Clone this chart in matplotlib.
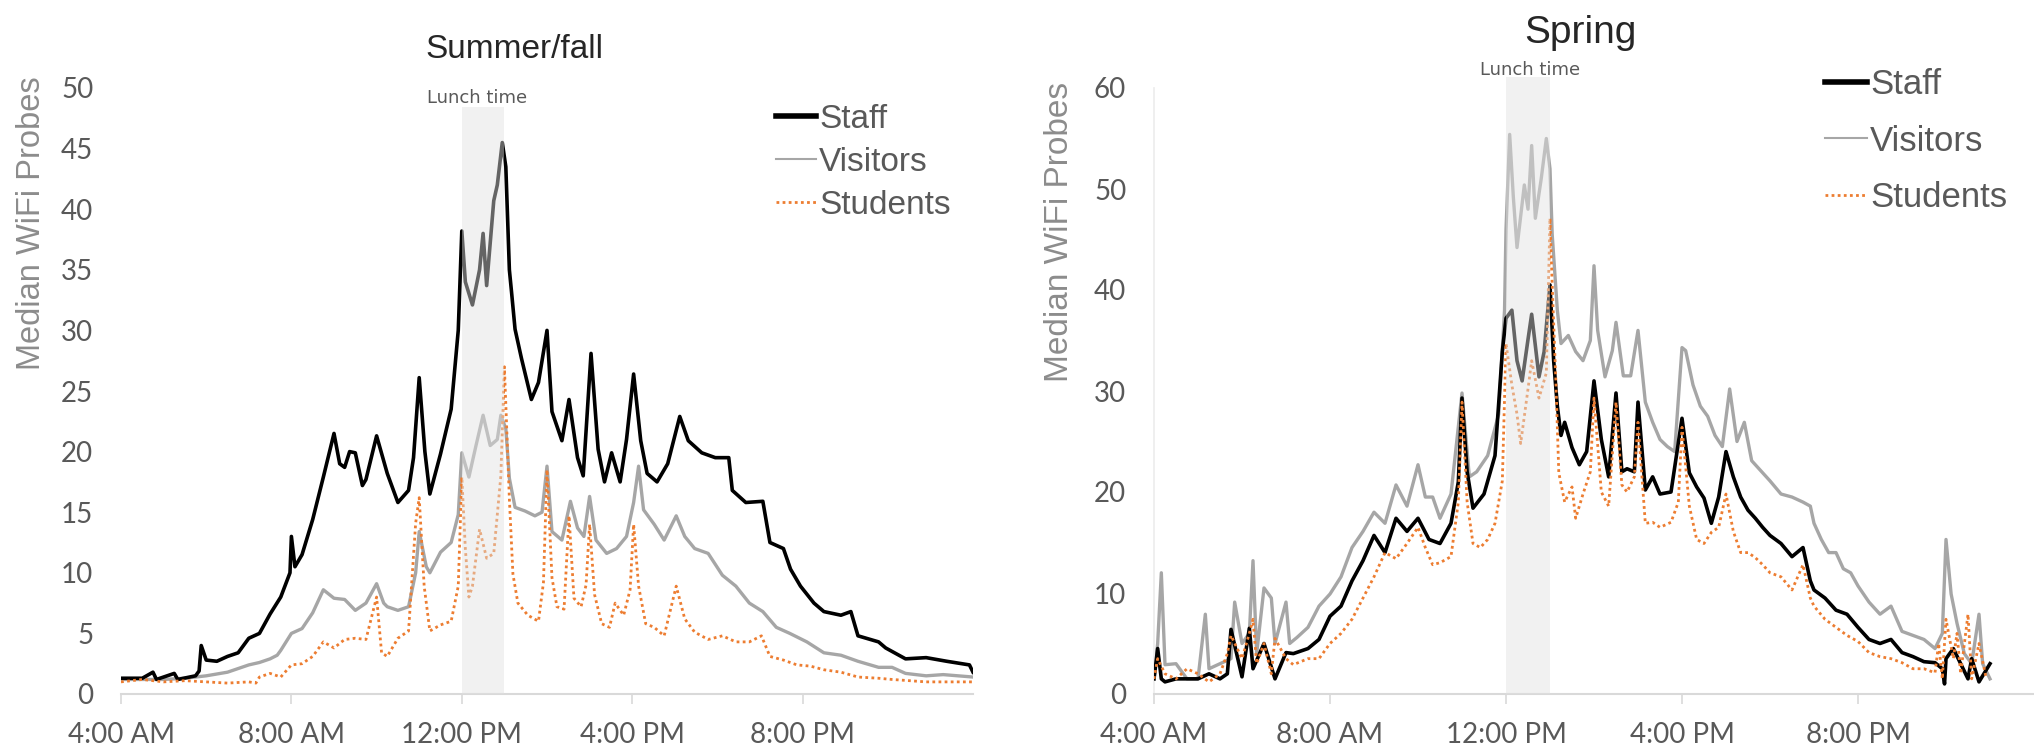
import matplotlib
matplotlib.use("Agg")
import matplotlib.pyplot as plt

# ---- data, times as HH:MM ----
sf_staff_t = ["04:00", "04:30", "04:45", "04:50", "05:15", "05:20", "05:45", "05:50", "05:53", "06:00",
              "06:15", "06:30", "06:45", "07:00", "07:15", "07:30", "07:45", "07:58", "08:00", "08:05",
              "08:15", "08:30", "08:45", "09:00", "09:08", "09:15", "09:22", "09:30", "09:40", "09:45",
              "10:00", "10:15", "10:30", "10:45", "10:52", "11:00", "11:08", "11:15", "11:30", "11:45",
              "11:55", "12:00", "12:05", "12:15", "12:25", "12:30", "12:35", "12:45", "12:50", "12:57",
              "13:02", "13:07", "13:10", "13:15", "13:24", "13:38", "13:48", "14:00", "14:07", "14:21",
              "14:31", "14:43", "14:51", "15:02", "15:12", "15:21", "15:31", "15:43", "15:52", "16:02",
              "16:12", "16:21", "16:35", "16:50", "17:07", "17:19", "17:38", "17:57", "18:16", "18:21",
              "18:40", "19:04", "19:14", "19:33", "19:43", "19:57", "20:16", "20:30", "20:54", "21:08",
              "21:18", "21:47", "21:57", "22:25", "22:54", "23:23", "23:55", "24:00"]
sf_staff_v = [1.3, 1.3, 1.8, 1.2, 1.7, 1.2, 1.5, 1.9, 4.0, 2.8,
              2.7, 3.1, 3.4, 4.6, 5.0, 6.6, 8.0, 10.0, 13.0, 10.5,
              11.5, 14.4, 17.9, 21.5, 19.0, 18.7, 20.0, 19.9, 17.2, 17.7,
              21.3, 18.2, 15.8, 16.8, 19.5, 26.1, 20.0, 16.5, 19.8, 23.5,
              30.0, 38.2, 34.0, 32.1, 35.0, 38.0, 33.7, 40.7, 42.0, 45.5,
              43.5, 35.0, 33.2, 30.1, 27.7, 24.3, 25.7, 30.0, 23.3, 20.9,
              24.3, 19.5, 18.0, 28.1, 20.2, 17.5, 19.9, 17.5, 21.0, 26.4,
              20.9, 18.2, 17.5, 19.0, 22.9, 20.9, 19.9, 19.5, 19.5, 16.8,
              15.8, 15.9, 12.5, 12.0, 10.3, 8.9, 7.5, 6.8, 6.5, 6.8,
              4.8, 4.3, 3.8, 2.9, 3.0, 2.7, 2.4, 1.8]

sf_vis_t = ["04:00", "05:00", "05:30", "06:00", "06:30", "07:00", "07:15", "07:30", "07:40", "07:45",
            "08:00", "08:15", "08:30", "08:45", "09:00", "09:15", "09:30", "09:45", "10:00", "10:10",
            "10:15", "10:30", "10:45", "10:55", "11:00", "11:10", "11:15", "11:30", "11:45", "11:55",
            "12:00", "12:10", "12:20", "12:30", "12:40", "12:50", "12:55", "13:02", "13:07", "13:15",
            "13:29", "13:43", "13:53", "14:00", "14:07", "14:21", "14:33", "14:43", "14:52", "15:00",
            "15:09", "15:24", "15:38", "15:52", "16:02", "16:09", "16:16", "16:31", "16:45", "17:02",
            "17:14", "17:28", "17:47", "18:07", "18:26", "18:45", "19:04", "19:23", "19:42", "20:06",
            "20:30", "20:54", "21:18", "21:47", "22:06", "22:25", "22:54", "23:18", "24:00"]
sf_vis_v = [1.2, 1.2, 1.3, 1.5, 1.8, 2.4, 2.6, 2.9, 3.2, 3.6,
            5.0, 5.4, 6.7, 8.6, 7.9, 7.8, 6.9, 7.5, 9.1, 7.5,
            7.2, 6.9, 7.2, 10.0, 13.4, 10.5, 10.0, 11.7, 12.5, 14.8,
            19.9, 17.9, 20.5, 23.0, 20.5, 21.0, 23.0, 21.9, 17.8, 15.4,
            15.1, 14.7, 15.0, 18.8, 13.4, 12.7, 15.9, 13.7, 13.0, 16.3,
            12.7, 11.6, 12.0, 13.0, 15.8, 18.8, 15.2, 14.0, 12.7, 14.7,
            13.0, 12.0, 11.6, 9.8, 8.9, 7.5, 6.8, 5.5, 5.0, 4.3,
            3.4, 3.2, 2.7, 2.2, 2.2, 1.7, 1.5, 1.6, 1.4]

sf_stu_t = ["04:00", "04:30", "05:00", "05:30", "06:00", "06:30", "07:00", "07:10", "07:15", "07:30",
            "07:45", "08:00", "08:15", "08:30", "08:45", "09:00", "09:15", "09:30", "09:45", "10:00",
            "10:07", "10:15", "10:30", "10:45", "10:55", "11:00", "11:07", "11:15", "11:30", "11:45",
            "11:55", "12:00", "12:05", "12:10", "12:15", "12:25", "12:35", "12:45", "12:55", "13:00",
            "13:07", "13:12", "13:19", "13:33", "13:48", "13:55", "14:00", "14:07", "14:14", "14:24",
            "14:31", "14:38", "14:48", "14:55", "15:00", "15:07", "15:17", "15:28", "15:36", "15:48",
            "15:57", "16:02", "16:09", "16:19", "16:31", "16:45", "17:02", "17:14", "17:28", "17:47",
            "18:07", "18:26", "18:45", "19:02", "19:14", "19:33", "19:52", "20:11", "20:30", "20:54",
            "21:18", "21:47", "22:06", "22:30", "22:54", "24:00"]
sf_stu_v = [1.0, 1.2, 1.0, 1.1, 1.0, 0.9, 1.0, 0.9, 1.4, 1.7,
            1.4, 2.4, 2.5, 3.1, 4.3, 3.8, 4.5, 4.6, 4.5, 8.0,
            3.4, 3.1, 4.6, 5.2, 14.1, 16.2, 8.9, 5.2, 5.7, 6.0,
            8.9, 17.9, 12.0, 8.0, 8.9, 13.6, 11.2, 11.6, 18.0, 27.0,
            16.1, 9.9, 7.5, 6.5, 6.0, 9.2, 18.5, 9.6, 7.2, 7.0,
            14.7, 7.9, 7.2, 9.0, 14.0, 8.2, 5.8, 5.5, 7.5, 6.5,
            8.6, 14.0, 8.9, 5.8, 5.5, 4.8, 8.9, 6.2, 5.1, 4.5,
            4.8, 4.3, 4.3, 4.8, 3.1, 2.8, 2.4, 2.3, 2.0, 1.8,
            1.4, 1.3, 1.2, 1.1, 1.0, 1.0]

sp_staff_t = ["04:00", "04:05", "04:10", "04:15", "04:30", "05:00", "05:15", "05:30", "05:40", "05:45",
              "06:00", "06:10", "06:15", "06:30", "06:45", "07:00", "07:10", "07:30", "07:45", "08:00",
              "08:15", "08:30", "08:45", "09:00", "09:15", "09:30", "09:45", "10:00", "10:15", "10:30",
              "10:45", "10:55", "11:00", "11:07", "11:15", "11:30", "11:45", "11:55", "12:00", "12:08",
              "12:15", "12:22", "12:30", "12:35", "12:45", "12:52", "13:00", "13:05", "13:10", "13:15",
              "13:20", "13:30", "13:40", "13:50", "14:00", "14:10", "14:20", "14:30", "14:38", "14:45",
              "14:55", "15:00", "15:10", "15:20", "15:30", "15:45", "16:00", "16:10", "16:20", "16:30",
              "16:40", "16:50", "17:00", "17:10", "17:20", "17:30", "17:40", "17:50", "18:00", "18:15",
              "18:30", "18:45", "18:55", "19:00", "19:15", "19:30", "19:45", "20:00", "20:15", "20:30",
              "20:45", "21:00", "21:15", "21:30", "21:45", "21:55", "21:58", "22:00", "22:10", "22:20",
              "22:30", "22:35", "22:45", "23:00"]
sp_staff_v = [1.5, 4.5, 1.5, 1.2, 1.5, 1.5, 2.0, 1.5, 2.0, 6.4,
              1.7, 6.5, 2.5, 5.0, 1.5, 4.1, 4.0, 4.5, 5.4, 7.7,
              8.7, 11.2, 13.2, 15.7, 14.0, 17.4, 16.1, 17.4, 15.3, 14.9,
              16.9, 21.0, 29.3, 22.0, 18.4, 19.8, 23.6, 33.9, 37.2, 38.0,
              33.0, 31.0, 35.1, 37.6, 31.4, 33.9, 40.5, 33.0, 28.5, 25.6,
              26.9, 24.4, 22.7, 24.0, 31.0, 25.2, 21.5, 29.8, 22.0, 22.3,
              22.0, 28.9, 20.2, 21.5, 19.8, 20.0, 27.3, 21.9, 20.5, 19.4,
              16.9, 19.5, 24.0, 21.5, 19.5, 18.2, 17.4, 16.5, 15.7, 14.9,
              13.6, 14.5, 11.2, 10.3, 9.5, 8.3, 7.9, 6.6, 5.4, 5.0,
              5.4, 4.1, 3.7, 3.2, 3.1, 2.5, 1.0, 3.5, 4.5, 3.0,
              1.5, 3.5, 1.2, 3.0]

sp_vis_t = ["04:00", "04:05", "04:10", "04:15", "04:30", "04:45", "05:00", "05:10", "05:15", "05:30",
            "05:45", "05:50", "06:00", "06:10", "06:15", "06:20", "06:30", "06:40", "06:45", "07:00",
            "07:05", "07:15", "07:30", "07:45", "08:00", "08:15", "08:30", "08:45", "09:00", "09:15",
            "09:30", "09:45", "10:00", "10:10", "10:20", "10:30", "10:45", "11:00", "11:10", "11:20",
            "11:35", "11:50", "11:58", "12:00", "12:05", "12:10", "12:15", "12:25", "12:30", "12:35",
            "12:40", "12:48", "12:55", "13:00", "13:03", "13:10", "13:15", "13:25", "13:35", "13:45",
            "13:55", "14:00", "14:05", "14:15", "14:25", "14:30", "14:40", "14:50", "15:00", "15:10",
            "15:20", "15:30", "15:40", "15:50", "16:00", "16:05", "16:15", "16:25", "16:35", "16:45",
            "16:55", "17:05", "17:15", "17:25", "17:35", "17:45", "18:00", "18:15", "18:30", "18:45",
            "18:55", "19:00", "19:10", "19:20", "19:30", "19:40", "19:50", "20:00", "20:15", "20:30",
            "20:45", "21:00", "21:15", "21:30", "21:45", "21:55", "22:00", "22:07", "22:15", "22:25",
            "22:35", "22:45", "22:50", "23:00"]
sp_vis_v = [1.5, 5.0, 12.0, 2.9, 3.0, 1.5, 1.5, 7.9, 2.5, 3.0,
            3.5, 9.1, 5.0, 6.0, 13.2, 4.0, 10.5, 9.5, 5.0, 9.1,
            5.0, 5.6, 6.6, 8.7, 9.9, 11.6, 14.5, 16.1, 18.0, 16.9,
            20.7, 18.6, 22.7, 19.5, 19.5, 17.4, 19.8, 29.8, 21.5, 22.0,
            23.6, 27.7, 38.0, 46.0, 55.4, 49.2, 44.2, 50.4, 48.0, 54.3,
            47.1, 51.0, 55.0, 52.0, 45.5, 38.0, 34.7, 35.5, 33.9, 33.0,
            35.0, 42.4, 36.0, 31.4, 34.0, 36.8, 31.5, 31.5, 36.0, 28.9,
            26.9, 25.2, 24.5, 24.0, 34.3, 34.0, 30.6, 28.5, 27.5, 25.6,
            24.5, 30.2, 25.0, 26.9, 23.1, 22.3, 21.1, 19.8, 19.5, 19.0,
            18.6, 16.9, 15.3, 14.0, 14.0, 12.4, 12.0, 10.7, 9.1, 7.9,
            8.7, 6.2, 5.8, 5.4, 4.5, 6.0, 15.3, 9.9, 7.0, 4.0,
            3.0, 7.9, 3.0, 1.5]

sp_stu_t = ["04:00", "04:05", "04:15", "04:30", "04:45", "05:00", "05:15", "05:30", "05:40", "05:45",
            "06:00", "06:10", "06:15", "06:20", "06:30", "06:40", "06:45", "07:00", "07:10", "07:30",
            "07:45", "08:00", "08:15", "08:30", "08:45", "09:00", "09:15", "09:30", "09:45", "10:00",
            "10:10", "10:20", "10:30", "10:45", "10:55", "11:00", "11:07", "11:15", "11:25", "11:35",
            "11:45", "11:55", "12:00", "12:08", "12:15", "12:20", "12:30", "12:35", "12:45", "12:55",
            "13:00", "13:03", "13:08", "13:12", "13:20", "13:30", "13:35", "13:45", "13:55", "14:00",
            "14:10", "14:20", "14:30", "14:38", "14:45", "14:55", "15:00", "15:10", "15:20", "15:30",
            "15:45", "15:55", "16:00", "16:10", "16:20", "16:30", "16:40", "16:50", "17:00", "17:10",
            "17:20", "17:30", "17:40", "17:50", "18:00", "18:15", "18:30", "18:45", "18:55", "19:00",
            "19:15", "19:30", "19:45", "20:00", "20:15", "20:30", "20:45", "21:00", "21:15", "21:30",
            "21:45", "21:50", "21:55", "22:00", "22:10", "22:15", "22:20", "22:30", "22:35", "22:45",
            "22:55"]
sp_stu_v = [1.5, 3.5, 2.0, 1.5, 2.5, 2.0, 1.2, 2.0, 4.0, 5.8,
            3.5, 6.0, 7.4, 3.0, 5.0, 2.0, 5.5, 3.5, 2.9, 3.5,
            3.5, 5.0, 6.0, 7.4, 9.5, 11.6, 14.0, 13.4, 14.9, 16.5,
            14.5, 12.8, 13.0, 13.6, 19.0, 28.9, 19.0, 14.9, 14.5, 15.3,
            16.9, 21.1, 34.7, 30.6, 27.7, 24.8, 30.2, 33.0, 29.3, 31.8,
            47.1, 40.5, 31.0, 21.9, 19.0, 20.5, 17.4, 19.8, 22.0, 29.3,
            20.0, 18.6, 28.9, 20.7, 20.0, 21.5, 26.9, 16.9, 17.0, 16.5,
            17.0, 19.0, 26.4, 18.6, 15.3, 14.9, 16.0, 16.5, 19.8, 16.1,
            14.0, 14.0, 13.5, 12.8, 12.0, 11.6, 10.3, 12.8, 9.5, 8.7,
            7.4, 6.6, 5.8, 5.2, 4.1, 3.7, 3.5, 3.1, 2.5, 2.5,
            2.1, 5.0, 1.5, 7.4, 3.5, 6.0, 2.0, 7.9, 1.5, 5.0,
            1.5]

tick_hours = [4, 8, 12, 16, 20]
tick_labels = ["4:00 AM", "8:00 AM", "12:00 PM", "4:00 PM", "8:00 PM"]


def hrs(ts):
    return [int(t[:2]) + int(t[3:]) / 60 for t in ts]


W, H = 2034, 749
fig = plt.figure(figsize=(W / 100, H / 100), dpi=100)

txt_font = "Liberation Sans"
tick_font = "Lato"


def style_axes(ax, ymax, ystep, show_left):
    ax.set_xlim(4, 24)
    ax.set_ylim(0, ymax)
    ax.set_xticks(tick_hours)
    ax.set_xticklabels(tick_labels)
    ax.set_yticks(range(0, ymax + 1, ystep))
    for s in ["top", "right"]:
        ax.spines[s].set_visible(False)
    ax.spines["bottom"].set_color("#d9d9d9")
    ax.spines["bottom"].set_linewidth(1.5)
    if show_left:
        ax.spines["left"].set_color("#ececec")
        ax.spines["left"].set_linewidth(1.2)
    else:
        ax.spines["left"].set_visible(False)
    ax.tick_params(axis="x", direction="out", length=7, width=1.2, color="#d9d9d9",
                   pad=13, labelsize=20, labelcolor="#595959")
    ax.tick_params(axis="y", length=0, pad=20, labelsize=20, labelcolor="#595959")
    for lab in ax.get_xticklabels() + ax.get_yticklabels():
        lab.set_family(tick_font)


def draw(ax, staff, vis, stu):
    ax.plot(hrs(vis[0]), vis[1], color="#a6a6a6", lw=2.4, label="Visitors", zorder=2)
    ax.plot(hrs(staff[0]), staff[1], color="black", lw=2.6, label="Staff", zorder=3)
    ax.plot(hrs(stu[0]), stu[1], color="#ed7d31", lw=2.0, ls=(0, (1, 1.2)),
            label="Students", zorder=4)


# left panel: Summer/fall
ax1 = fig.add_axes([121 / W, 55 / H, 852 / W, 606 / H])
draw(ax1, (sf_staff_t, sf_staff_v), (sf_vis_t, sf_vis_v), (sf_stu_t, sf_stu_v))
style_axes(ax1, 50, 5, False)
band1 = ax1.axvspan(12, 13, ymin=0, ymax=48.4 / 50, color="#e0e0e0", alpha=0.45, lw=0, zorder=5)
ax1.text(12.35, 48.8, "Lunch time", ha="center", va="baseline", fontsize=13,
         color="#595959", family="DejaVu Sans")

# right panel: Spring
ax2 = fig.add_axes([1154 / W, 55 / H, 880 / W, 606 / H])
draw(ax2, (sp_staff_t, sp_staff_v), (sp_vis_t, sp_vis_v), (sp_stu_t, sp_stu_v))
style_axes(ax2, 60, 10, True)
band2 = ax2.axvspan(12, 13, ymin=0, ymax=61.1 / 60, color="#e0e0e0", alpha=0.45, lw=0, zorder=5)
band2.set_clip_on(False)
ax2.text(12.55, 61.3, "Lunch time", ha="center", va="baseline", fontsize=13,
         color="#595959", family="DejaVu Sans")

# titles and axis labels
fig.text(514 / W, 1 - 58 / H, "Summer/fall", ha="center", va="baseline", fontsize=24,
         color="#262626", family=txt_font)
fig.text(1580 / W, 1 - 43 / H, "Spring", ha="center", va="baseline", fontsize=28,
         color="#262626", family=txt_font)
fig.text(32 / W, 1 - 223 / H, "Median WiFi Probes", rotation=90, ha="center", va="center",
         fontsize=23.5, color="#8c8c8c", family=txt_font)
fig.text(1059 / W, 1 - 232 / H, "Median WiFi Probes", rotation=90, ha="center", va="center",
         fontsize=24, color="#8c8c8c", family=txt_font)

# legends
for ax, (lx, ly), fs, sp in [(ax1, (776, 104), 24, 0.36), (ax2, (1825, 68), 25, 0.68)]:
    h, l = ax.get_legend_handles_labels()
    order = [1, 0, 2]
    leg = ax.legend([h[i] for i in order], [l[i] for i in order], loc="upper left",
                    bbox_to_anchor=(lx / W, 1 - ly / H), bbox_transform=fig.transFigure,
                    frameon=False, borderpad=0, borderaxespad=0, handlelength=1.2,
                    handletextpad=0.1, labelspacing=sp,
                    prop={"family": txt_font, "size": fs})
    for t in leg.get_texts():
        t.set_color("#595959")
    leg.get_lines()[0].set_linewidth(4)
    leg.get_lines()[1].set_linewidth(1.5)
    leg.set_zorder(10)

fig.savefig("out.png", dpi=100)
